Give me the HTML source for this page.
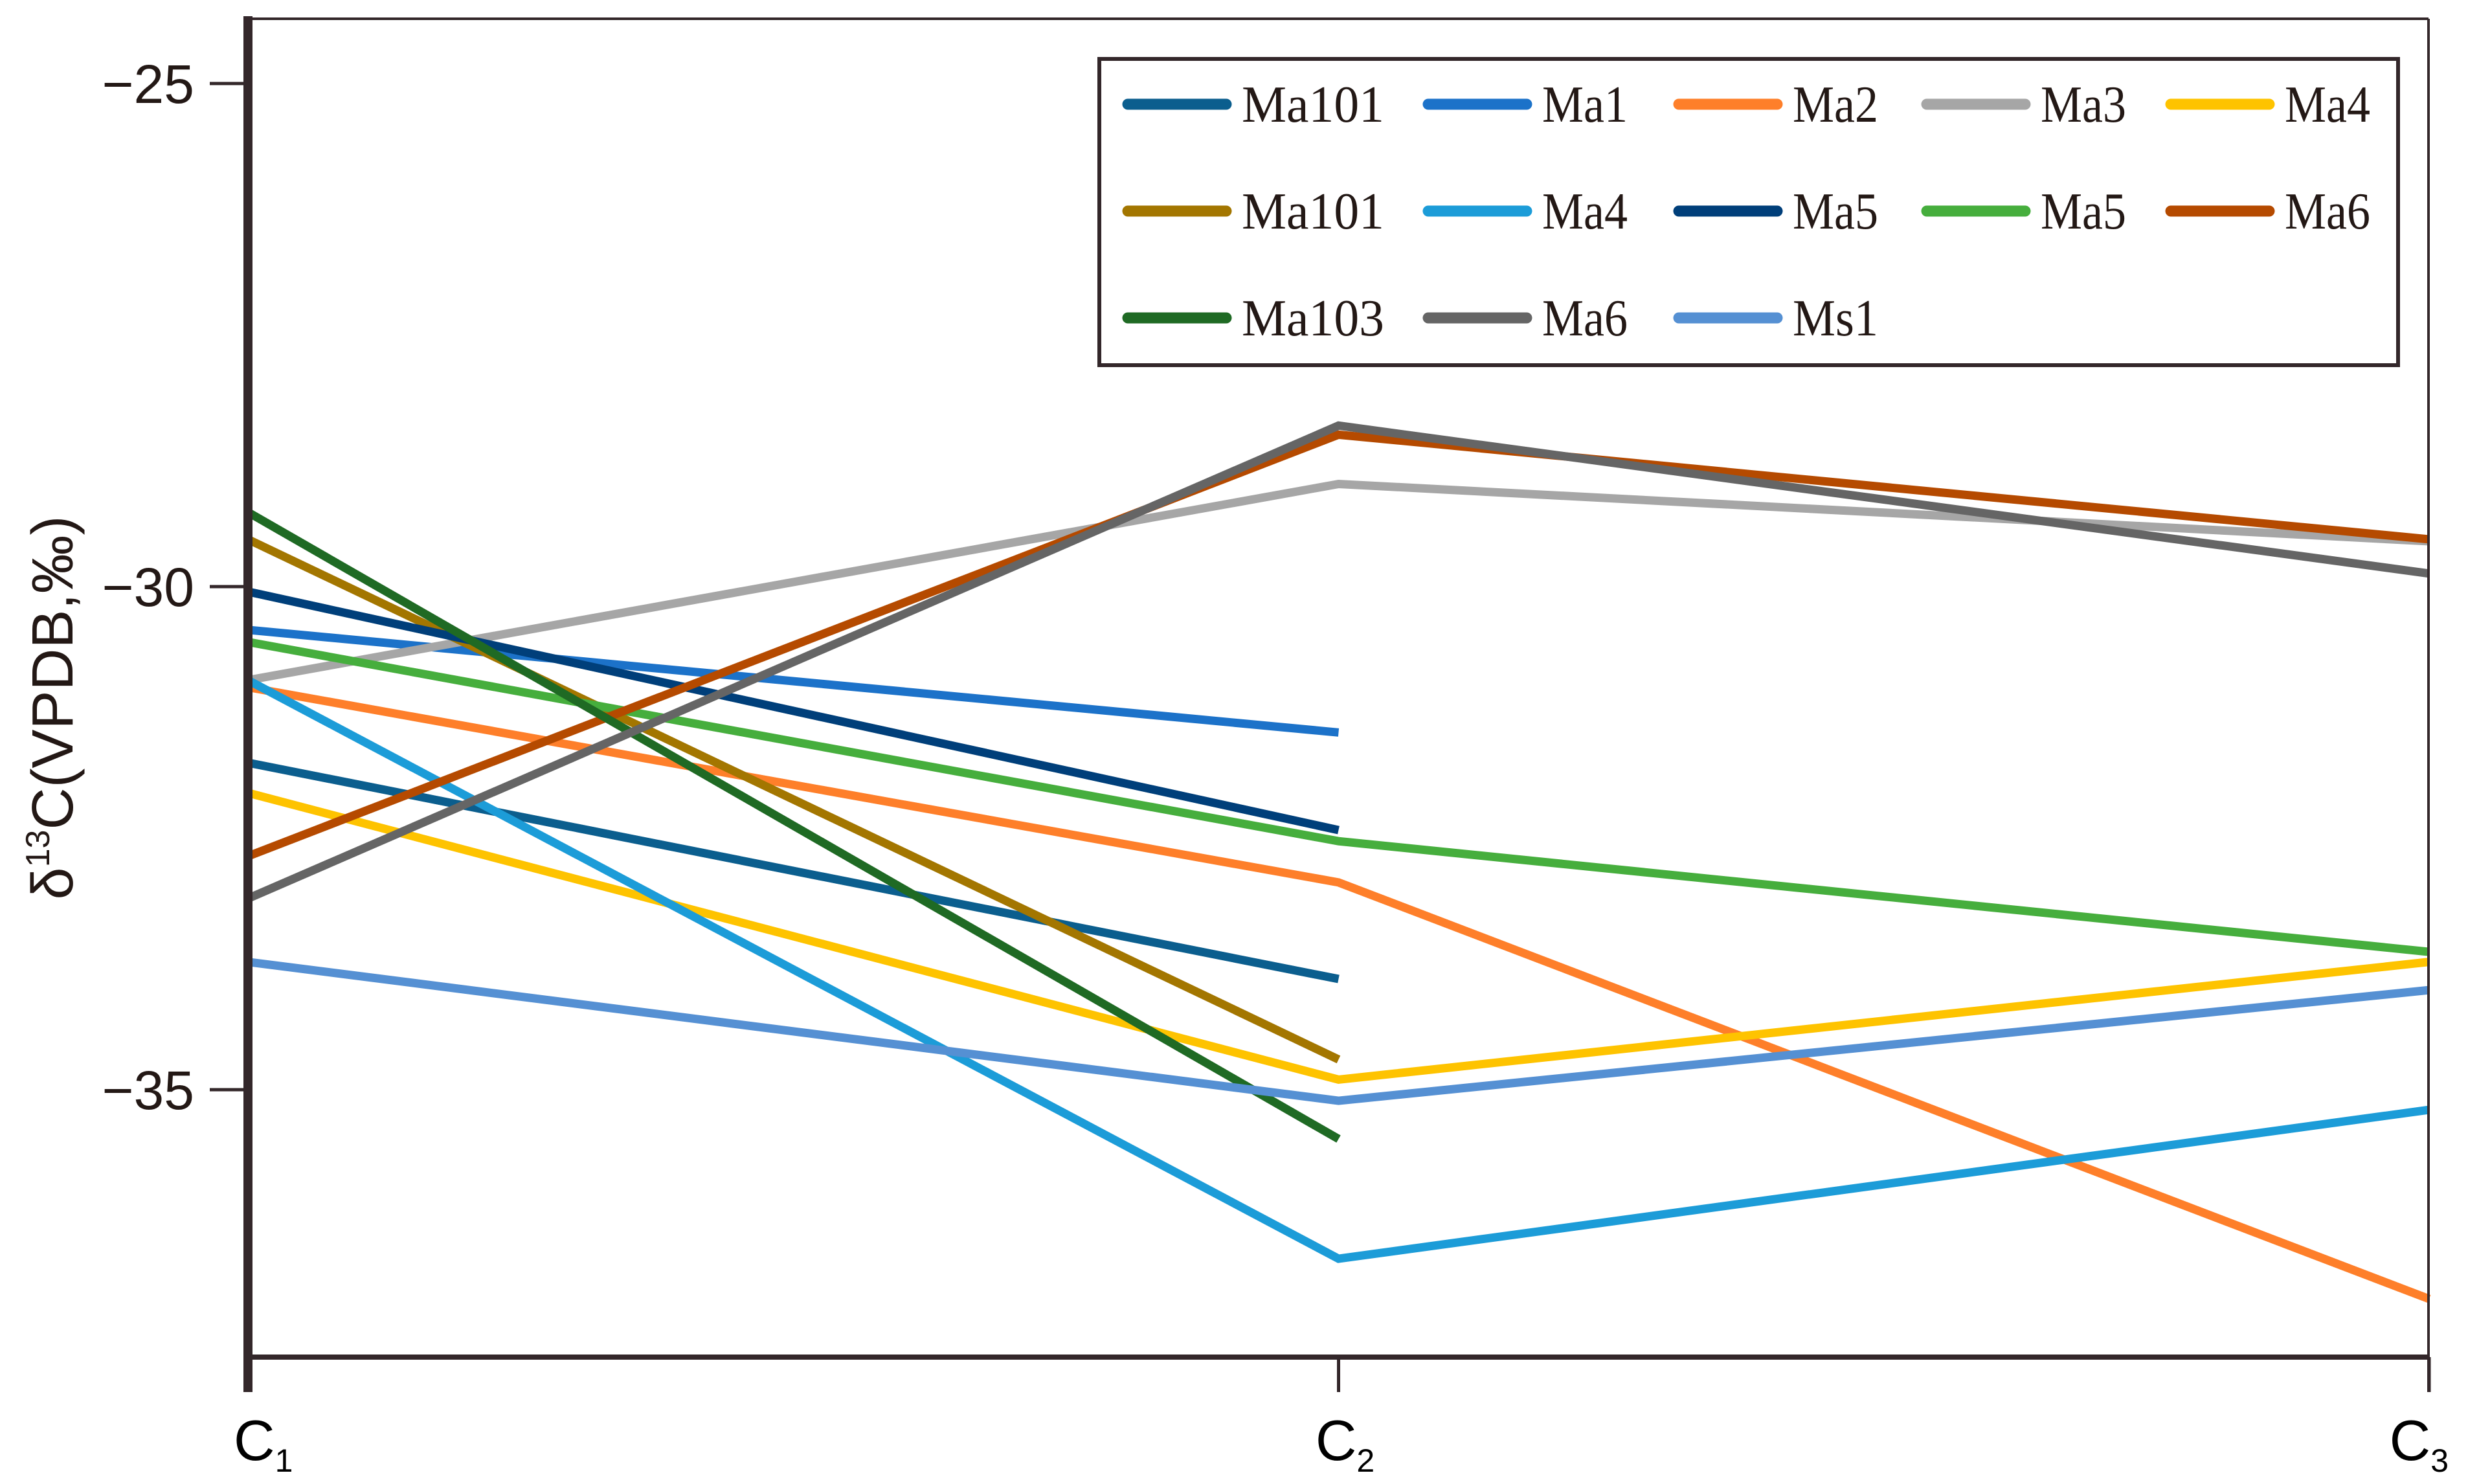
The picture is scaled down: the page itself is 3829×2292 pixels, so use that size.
<!DOCTYPE html>
<html><head><meta charset="utf-8"><style>
html,body{margin:0;padding:0;background:#fff;}
svg{display:block;}
</style></head><body>
<svg id="chart" xmlns="http://www.w3.org/2000/svg" width="3829" height="2292" viewBox="0 0 3829 2292">
<rect width="3829" height="2292" fill="#fff"/>
<g id="series"></g>
<line x1="383" y1="29" x2="3751" y2="29" stroke="#33272a" stroke-width="4"/>
<line x1="3751" y1="29" x2="3751" y2="2150" stroke="#33272a" stroke-width="4"/>
<line x1="383" y1="2096" x2="3753" y2="2096" stroke="#33272a" stroke-width="8"/>
<line x1="383" y1="25" x2="383" y2="2150" stroke="#33272a" stroke-width="14"/>
<g id="yticks"></g>
<g id="xticks"></g>
<text transform="translate(112,1093) rotate(-90)" text-anchor="middle" font-family="Liberation Sans, sans-serif" font-size="90" fill="#231815">δ<tspan font-size="52" dy="-36">13</tspan><tspan dy="36">C(VPDB,‰)</tspan></text>
<rect x="1698" y="91" width="2006" height="473" fill="#fff" stroke="#33272a" stroke-width="6"/>
<g id="legend"></g>
</svg>
<script>
const categories = ["C1","C2","C3"];
const seriesNames = ["Ma101","Ma1","Ma2","Ma3","Ma4","Ma101","Ma4","Ma5","Ma5","Ma6","Ma103","Ma6","Ms1"];
const seriesColors = ["#0b5e8e","#1c72c9","#fe7f2a","#a6a6a6","#fec300","#a37600","#1c9cd8","#003f7a","#46ae3d","#b54a00","#1f6a24","#656565","#5590d3"];
const s0 = [-31.75,-33.9,null];
const s1 = [-30.43,-31.45,null];
const s2 = [-31.0,-32.94,-37.08];
const s3 = [-30.93,-28.98,-29.55];
const s4 = [-32.05,-34.9,-33.73];
const s5 = [-29.53,-34.7,null];
const s6 = [-30.93,-36.68,-35.2];
const s7 = [-30.05,-32.42,null];
const s8 = [-30.55,-32.53,-33.63];
const s9 = [-32.68,-28.49,-29.53];
const s10 = [-29.26,-35.49,null];
const s11 = [-33.1,-28.4,-29.87];
const s12 = [-33.73,-35.11,-34.01];
const seriesValues = [s0,s1,s2,s3,s4,s5,s6,s7,s8,s9,s10,s11,s12];
const yTicks = [-25,-30,-35];
const yTickLabels = ["\u221225","\u221230","\u221235"];

const NS = "http://www.w3.org/2000/svg";
function xPos(i){ return 383 + i*(3752-383)/(categories.length-1); }
function yPos(v){ return 129 + (-25 - v)*155.4; }
function mk(tag, attrs, parent){ const e=document.createElementNS(NS,tag); for(const k in attrs) e.setAttribute(k, attrs[k]); parent.appendChild(e); return e; }

const sg = document.getElementById('series');
seriesValues.forEach((vals, si) => {
  const pts = [];
  vals.forEach((v,i)=>{ if(v!==null) pts.push(xPos(i)+','+yPos(v)); });
  const pl = mk('polyline', {points: pts.join(' '), fill:'none', stroke: seriesColors[si], 'stroke-width': 13, 'stroke-linejoin':'miter'}, sg);
  
  
});

const yg = document.getElementById('yticks');
yTicks.forEach((t,i)=>{
  const ln = mk('line', {x1:324, x2:383, y1:yPos(t), y2:yPos(t), stroke:'#33272a', 'stroke-width':5}, yg);
  
  
  const tx = mk('text', {x:300, y:yPos(t)+30, 'text-anchor':'end', 'font-family':'Liberation Sans, sans-serif', 'font-size':84, fill:'#231815'}, yg);
  tx.textContent = yTickLabels[i];
  
  
});

const xg = document.getElementById('xticks');
categories.forEach((c,i)=>{
  const x = xPos(i);
  const ln = mk('line', {x1:x, x2:x, y1:2096, y2:2150, stroke:'#33272a', 'stroke-width':5}, xg);
  
  
  const anchor = i===0 ? 'start' : (i===categories.length-1 ? 'end' : 'middle');
  const tx = mk('text', {x: i===0 ? x-22 : (i===categories.length-1 ? x+30 : x+10), y:2255, 'text-anchor':anchor, 'font-family':'Liberation Sans, sans-serif', 'font-size':88, fill:'#000'}, xg);
  tx.textContent = c.charAt(0);
  const sub = mk('tspan', {'font-size':50, dy:18}, tx);
  sub.textContent = c.slice(1);
  
  
});

const lg = document.getElementById('legend');
const colX = [1734, 2198, 2585, 2968, 3345];
const rowY = [161, 326, 491];
seriesNames.forEach((n,i)=>{
  const cx = colX[i%5], cy = rowY[Math.floor(i/5)];
  const sw = mk('line', {x1:cx+8, x2:cx+160, y1:cy, y2:cy, stroke:seriesColors[i], 'stroke-width':17, 'stroke-linecap':'round'}, lg);
  
  
  const tx = mk('text', {x:cx+184, y:cy+27, 'font-family':'Liberation Serif, serif', 'font-size':80, fill:'#231815', textLength: n.length*44, lengthAdjust:'spacingAndGlyphs'}, lg);
  tx.textContent = n;
  
  
});
</script>
</body></html>
